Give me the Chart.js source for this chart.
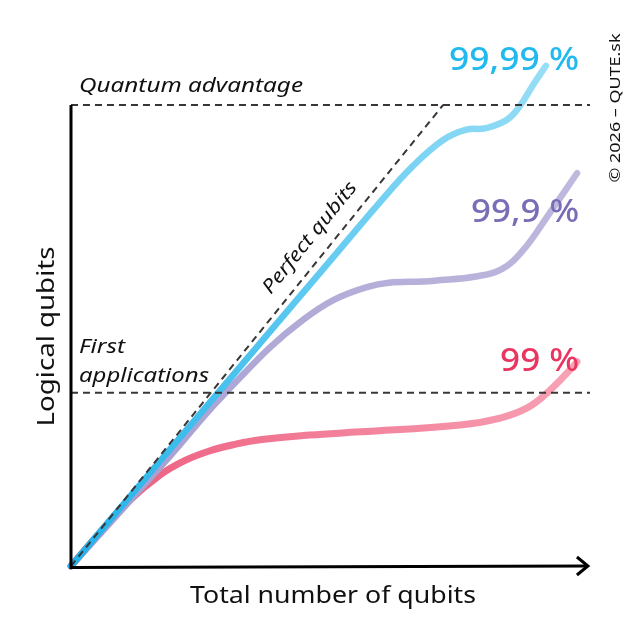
<!DOCTYPE html>
<html>
<head>
<meta charset="utf-8">
<script src="https://cdn.jsdelivr.net/npm/chart.js@4.4.1/dist/chart.umd.min.js"></script>
<style>
  html, body { margin: 0; padding: 0; background: #ffffff; }
  #wrap { width: 638px; height: 638px; }
</style>
</head>
<body>
<div id="wrap"><canvas id="c" width="638" height="638"></canvas></div>
<script>
// ---- data (arbitrary units 0..100) ----
const cyanX   = [0, 30.0, 50.0, 59.5, 65.9, 71.7, 76.0, 80.0, 84.0, 86.5, 89.0, 91.5];
const cyanY   = [0, 39.8, 66.3, 78.9, 86.8, 92.4, 94.6, 95.0, 96.8, 99.8, 104.3, 108.5];

const purpleX = [0, 18.4, 29.7, 44.7, 57.0, 70.0, 78.0, 83.0, 87.1, 91.7, 97.5];
const purpleY = [0, 23.0, 37.5, 53.4, 60.5, 61.9, 62.8, 64.4, 68.5, 75.7, 85.2];

const pinkX   = [0, 5.0, 10.8, 17.1, 22.0, 26.8, 31.6, 36.4, 46.0, 55.7, 75.0, 82.7, 87.9, 91.7, 96.7, 97.5];
const pinkY   = [0, 6.5, 13.7, 19.7, 22.9, 25.0, 26.4, 27.4, 28.4, 29.1, 30.6, 32.1, 34.3, 37.5, 43.2, 44.3];

const perfectX = [0, 71.7];
const perfectY = [0, 100];

const advantageLevel = 100;   // "Quantum advantage"
const firstAppsLevel = 37.6;  // "First applications"
const levelX = [0, 100];

const seriesLabels = ['99,99 %', '99,9 %', '99 %'];
const xTitle = 'Total number of qubits';
const yTitle = 'Logical qubits';
const copyright = '\u00A9 2026 \u2013 QUTE.sk';

// ---- helpers ----
const pts = (xs, ys) => xs.map((x, i) => ({ x: x, y: ys[i] }));
const FONT = '"Noto Sans", "Open Sans", sans-serif';

function gradientFor(c0, c1) {
  return function (context) {
    const chart = context.chart;
    const area = chart.chartArea;
    if (!area) return c0;
    const ds = chart.data.datasets[context.datasetIndex];
    const last = ds.data[ds.data.length - 1];
    const xs = chart.scales.x, ys = chart.scales.y;
    const x0 = xs.getPixelForValue(0), y0 = ys.getPixelForValue(0);
    const x1 = xs.getPixelForValue(last.x), y1 = ys.getPixelForValue(last.y);
    const g = chart.ctx.createLinearGradient(x0, y0, x1, y1);
    g.addColorStop(0, c0);
    g.addColorStop(1, c1);
    return g;
  };
}

// draw text stretched horizontally to a given width (align: left/right/center)
function fillFit(ctx, text, x, y, width, align) {
  const w = ctx.measureText(text).width;
  const s = width / w;
  ctx.save();
  ctx.translate(x, y);
  ctx.scale(s, 1);
  ctx.textAlign = align;
  ctx.fillText(text, 0, 0);
  ctx.restore();
}

const decor = {
  id: 'decor',
  afterDatasetsDraw(chart) {
    const ctx = chart.ctx;
    const xs = chart.scales.x, ys = chart.scales.y;
    const px = v => xs.getPixelForValue(v);
    const py = v => ys.getPixelForValue(v);
    const ox = px(0), oy = py(0);

    ctx.save();
    // axes
    ctx.strokeStyle = '#000';
    ctx.lineWidth = 3;
    ctx.lineCap = 'butt';
    ctx.beginPath();
    ctx.moveTo(ox, py(advantageLevel));
    ctx.lineTo(ox, oy + 1.5);
    ctx.lineTo(px(99.6), oy);
    ctx.stroke();
    // arrow head
    ctx.lineJoin = 'miter';
    ctx.beginPath();
    ctx.moveTo(px(99.6) - 11, oy - 9);
    ctx.lineTo(px(99.6), oy);
    ctx.lineTo(px(99.6) - 11, oy + 9);
    ctx.stroke();

    // series labels
    ctx.textBaseline = 'alphabetic';
    ctx.font = '500 33px ' + FONT;
    ctx.fillStyle = '#22b9ee';
    fillFit(ctx, seriesLabels[0], px(97.9), py(107.6), 130, 'right');
    ctx.fillStyle = '#7a6db6';
    fillFit(ctx, seriesLabels[1], px(97.9), py(74.6), 108, 'right');
    ctx.fillStyle = '#e93560';
    fillFit(ctx, seriesLabels[2], px(97.9), py(42.3), 79, 'right');

    // level annotations
    ctx.fillStyle = '#111';
    ctx.font = 'italic 19px ' + FONT;
    fillFit(ctx, 'Quantum advantage', ox + 8, py(advantageLevel) - 13, 224, 'left');
    fillFit(ctx, 'First', ox + 8, py(firstAppsLevel) - 40, 46, 'left');
    fillFit(ctx, 'applications', ox + 8, py(firstAppsLevel) - 11, 130, 'left');

    // perfect qubits (along the diagonal)
    const ang = Math.atan2(py(perfectY[1]) - oy, px(perfectX[1]) - ox);
    ctx.save();
    ctx.translate(310, 238);
    ctx.rotate(ang);
    ctx.textBaseline = 'middle';
    fillFit(ctx, 'Perfect qubits', 0, 0, 138, 'center');
    ctx.restore();

    // axis titles
    ctx.font = '23px ' + FONT;
    ctx.textBaseline = 'alphabetic';
    fillFit(ctx, xTitle, 333, oy + 37, 286, 'center');
    ctx.save();
    ctx.translate(ox - 17, (py(0) + py(100)) / 2 + 1);
    ctx.rotate(-Math.PI / 2);
    fillFit(ctx, yTitle, 0, 0, 180, 'center');
    ctx.restore();

    // copyright
    ctx.font = '15px ' + FONT;
    ctx.save();
    ctx.translate(620, 108);
    ctx.rotate(-Math.PI / 2);
    fillFit(ctx, copyright, 0, 0, 149, 'center');
    ctx.restore();

    ctx.restore();
  }
};

const dashStyle = {
  borderColor: '#3b3636',
  borderWidth: 2,
  borderDash: [7, 5],
  pointRadius: 0,
  tension: 0,
  fill: false,
  clip: false,
  order: 0
};

const curveStyle = {
  pointRadius: 0,
  tension: 0.4,
  borderCapStyle: 'round',
  borderJoinStyle: 'round',
  clip: false,
  fill: false
};

new Chart(document.getElementById('c'), {
  type: 'line',
  data: {
    datasets: [
      Object.assign({ label: 'Perfect qubits', data: pts(perfectX, perfectY) }, dashStyle),
      Object.assign({ label: 'Quantum advantage', data: pts(levelX, [advantageLevel, advantageLevel]) }, dashStyle),
      Object.assign({ label: 'First applications', data: pts(levelX, [firstAppsLevel, firstAppsLevel]) }, dashStyle),
      Object.assign({
        label: seriesLabels[0], data: pts(cyanX, cyanY),
        borderColor: gradientFor('#1fb2ea', '#98def6'), borderWidth: 6.5, order: 1
      }, curveStyle),
      Object.assign({
        label: seriesLabels[1], data: pts(purpleX, purpleY),
        borderColor: gradientFor('#a49bcf', '#c0b9de'), borderWidth: 6.5, order: 2
      }, curveStyle),
      Object.assign({
        label: seriesLabels[2], data: pts(pinkX, pinkY),
        borderColor: gradientFor('#ec5578', '#f8a3b6'), borderWidth: 7, order: 3
      }, curveStyle)
    ]
  },
  options: {
    responsive: false,
    animation: false,
    devicePixelRatio: 1,
    layout: { padding: { left: 71, right: 48, top: 105, bottom: 72 } },
    scales: {
      x: { type: 'linear', min: 0, max: 100, display: false },
      y: { type: 'linear', min: 0, max: 100, display: false }
    },
    plugins: { legend: { display: false }, tooltip: { enabled: false } },
    events: []
  },
  plugins: [decor]
});
</script>
</body>
</html>
